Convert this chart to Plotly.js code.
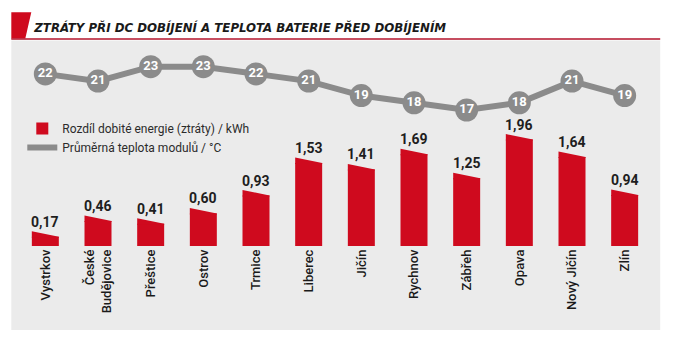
<!DOCTYPE html>
<html>
<head>
<meta charset="utf-8">
<script src="https://cdn.plot.ly/plotly-3.0.1.min.js"></script>
<style>html,body{margin:0;padding:0;background:#fff;}#chart{width:678px;height:355px;}</style>
</head>
<body>
<div id="chart"></div>
<script>
// ---- data ----
const categories = ['Vystrkov','České Budějovice','Přeštice','Ostrov','Trmice','Liberec','Jičín','Rychnov','Zábřeh','Opava','Nový Jičín','Zlín'];
const tickLabels = ['Vystrkov','České<br>Budějovice','Přeštice','Ostrov','Trmice','Liberec','Jičín','Rychnov','Zábřeh','Opava','Nový Jičín','Zlín'];
const lossKWh = [0.17,0.46,0.41,0.60,0.93,1.53,1.41,1.69,1.25,1.96,1.64,0.94];
const tempC = [22,21,23,23,22,21,19,18,17,18,21,19];
const titleText = 'ZTRÁTY PŘI DC DOBÍJENÍ A TEPLOTA BATERIE PŘED DOBÍJENÍM';
const lossName = 'Rozdíl dobité energie (ztráty) / kWh';
const tempName = 'Průměrná teplota modulů / °C';

// ---- layout geometry (pixels) ----
const W = 678, H = 355;
const ML = 18.7, MR = 27.2, MT = 40, MB = 109;
const PW = W - ML - MR, PH = H - MT - MB;
const px2x = x => (x - ML) / PW;
const px2y = y => (H - MB - y) / PH;

const RED = '#cf0a1e';
const GREY = '#8b8b8b';
const FONT = 'Roboto, "Open Sans", sans-serif';

const fmt = v => v.toFixed(2).replace('.', ',');

const traces = [
  {
    type: 'bar', x: categories, y: lossKWh, name: lossName,
    marker: {color: RED, line: {width: 0}},
    yaxis: 'y', hoverinfo: 'skip'
  },
  {
    type: 'scatter', mode: 'lines', x: categories, y: tempC, name: tempName,
    line: {color: GREY, width: 6},
    yaxis: 'y2', hoverinfo: 'skip'
  },
  {
    type: 'scatter', mode: 'markers+text', x: categories, y: tempC, showlegend: false,
    text: tempC.map(String), textposition: 'middle center',
    textfont: {family: FONT, size: 13, color: '#ffffff', weight: 'bold'},
    marker: {color: GREY, size: 23, line: {width: 0}},
    yaxis: 'y2', hoverinfo: 'skip'
  }
];

const shapes = [
  // grey panel
  {type: 'rect', xref: 'paper', yref: 'paper', layer: 'below',
   x0: px2x(11), x1: px2x(660), y0: px2y(40.5), y1: px2y(330),
   fillcolor: '#ebebeb', line: {width: 0}},
  // red title tab
  {type: 'path', xref: 'paper', yref: 'paper', layer: 'above',
   path: `M ${px2x(11)} ${px2y(12.3)} L ${px2x(31)} ${px2y(12.3)} L ${px2x(25)} ${px2y(38.6)} L ${px2x(11)} ${px2y(38.6)} Z`,
   fillcolor: RED, line: {width: 0}},
  // red underline
  {type: 'line', xref: 'paper', yref: 'paper',
   x0: px2x(11), x1: px2x(660), y0: px2y(39), y1: px2y(39),
   line: {color: '#b3132b', width: 1.5}}
];
// slanted tops of bars (taller on the left)
lossKWh.forEach((v, i) => {
  shapes.push({type: 'path', xref: 'x', yref: 'y',
    xsizemode: 'pixel', ysizemode: 'pixel', xanchor: i, yanchor: v,
    path: 'M -13.5 -1 L 13.5 -1 L 13.5 0 L -13.5 5.5 Z',
    fillcolor: RED, line: {width: 0}});
});

const annotations = lossKWh.map((v, i) => ({
  x: i, y: v, xref: 'x', yref: 'y', text: fmt(v), showarrow: false,
  yanchor: 'middle', yshift: 15,
  font: {family: FONT, size: 14, color: '#1e1e1e', weight: 'bold'}
}));

const layout = {
  width: W, height: H,
  margin: {l: ML, r: MR, t: MT, b: MB, pad: 0},
  paper_bgcolor: '#ffffff', plot_bgcolor: 'rgba(0,0,0,0)',
  title: {
    text: titleText, xref: 'paper', x: px2x(34), xanchor: 'left',
    yref: 'container', y: 1 - 27 / H, yanchor: 'middle',
    font: {family: '"Liberation Sans Narrow", "DejaVu Sans Condensed", Roboto, sans-serif', size: 13.1, color: '#1a1a1a', weight: 'bold', style: 'italic'}
  },
  bargap: 0.4875,
  xaxis: {
    type: 'category', range: [-0.5, 11.5], tickvals: categories, ticktext: tickLabels,
    tickangle: -90, showgrid: false, zeroline: false, showline: false, ticks: '',
    tickfont: {family: FONT, size: 13, color: '#1a1a1a', weight: 500}, fixedrange: true
  },
  yaxis: {range: [0, PH / 54.3], visible: false, fixedrange: true},
  yaxis2: {range: [17 - 136 / 7.22, 17 - 136 / 7.22 + PH / 7.22], overlaying: 'y', side: 'right', visible: false, fixedrange: true},
  showlegend: true,
  legend: {
    x: px2x(22), xanchor: 'left', y: px2y(114), yanchor: 'top',
    bgcolor: 'rgba(0,0,0,0)', borderwidth: 0, traceorder: 'normal',
    font: {family: FONT, size: 12, color: '#2b2b2b'}
  },
  shapes: shapes,
  annotations: annotations
};

Plotly.newPlot('chart', traces, layout, {staticPlot: true, displayModeBar: false});
</script>
</body>
</html>
